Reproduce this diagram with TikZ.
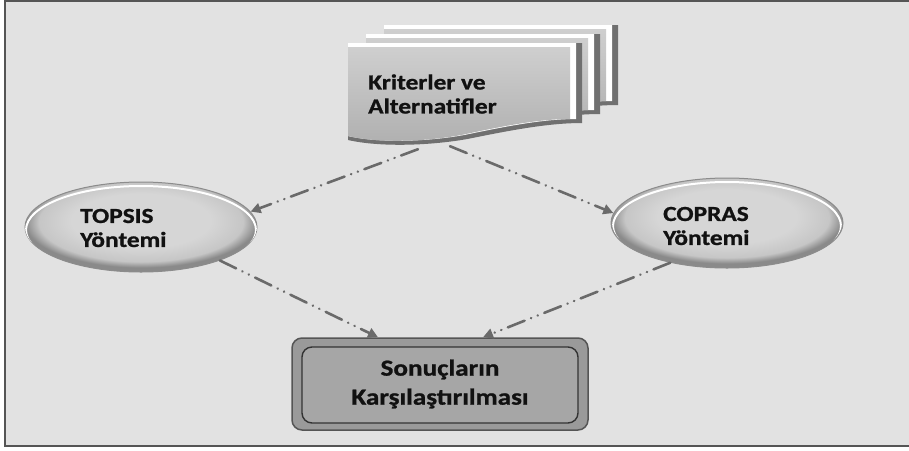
\documentclass[tikz,border=0pt]{standalone}
\usepackage{fontspec}
\setmainfont{Carlito}[FakeStretch=1.18, BoldFeatures={FakeBold=1}]
\usetikzlibrary{shapes.geometric,arrows.meta,calc}
\definecolor{bgc}{HTML}{E2E2E2}
\definecolor{framec}{HTML}{555555}
\definecolor{docdark}{HTML}{707070}
\definecolor{docTop}{HTML}{CFCFCF}
\definecolor{docBot}{HTML}{B0B0B0}
\definecolor{ellA}{HTML}{D6D6D6}
\definecolor{ellB}{HTML}{C6C6C6}
\definecolor{ellC}{HTML}{8A8A8A}
\definecolor{ellEdge}{HTML}{8C8C8C}
\definecolor{arrowc}{HTML}{6A6A6A}
\definecolor{resOut}{HTML}{9A9A9A}
\definecolor{resIn}{HTML}{A6A6A6}
\definecolor{txt}{HTML}{111111}
\pgfdeclareradialshading{ellshade}{\pgfqpoint{0bp}{5bp}}{color(0bp)=(ellA); color(15bp)=(ellA); color(22bp)=(ellB); color(25bp)=(ellC); color(50bp)=(ellC)}
\newcommand{\kdocpath}[4]{(#1,#2) -- (#3,#2) -- (#3,{80+#4}) .. controls ({#3*0.85},{80+#4}) and ({#3*0.68},{88+#4}) .. ({#3*0.51},{96+#4}) .. controls ({#3*0.34},{103+#4}) and ({#3*0.13},{104+#4}) .. (#1,{97+#4}) -- cycle}
\tikzset{
  lbl/.style={inner sep=0pt, text=txt, align=left, font=\bfseries\fontsize{21.5}{24}\selectfont},
  ellnode/.style={ellipse, minimum width=232pt, minimum height=90pt, inner sep=0pt, shade, shading=ellshade, draw=ellEdge, line width=1pt},
  flow/.style={draw=arrowc, line width=2.6pt, line cap=round,
    dash pattern=on 18pt off 7pt on 0.1pt off 7pt on 0.1pt off 7pt,
    -{Triangle[length=10pt,width=10pt]}},
  docface/.style={top color=docTop, bottom color=docBot}
}
\begin{document}
\begin{tikzpicture}[x=1pt,y=-1pt]
\useasboundingbox (0,0) rectangle (909,450);
\fill[white] (0,0) rectangle (909,450);
\fill[bgc] (5,1) rectangle (909,446);
\draw[framec, line width=2pt] (909,1) -- (5,1) -- (5,446) -- (909,446);

% documents
\foreach \dx/\dy in {384/25, 366/34, 348/43}{
  \begin{scope}[shift={(\dx,\dy)}]
    \fill[docdark] \kdocpath{0}{0}{234}{0};
    \fill[white] \kdocpath{0}{0}{228}{-4};
    \shade[docface] \kdocpath{0}{4}{222}{-4};
  \end{scope}
}
\node[minimum width=234pt, minimum height=97pt, inner sep=0pt] (krit) at (465,91.5) {};
\node[lbl, anchor=west] (kritT) at (368,94) {Kriterler ve\\Alternatifler};

% ellipses
\node[ellnode] (topsis) at (141,227) {};
\begin{scope}
  \clip (topsis.center) ellipse[x radius=116, y radius=45];
  \draw[white, line width=2pt] ([yshift=-3pt]topsis.center) ellipse[x radius=115, y radius=44];
\end{scope}
\node[lbl, anchor=west] (topsisT) at (80,228) {TOPSIS\\Yöntemi};

\node[ellnode] (copras) at (727,223) {};
\begin{scope}
  \clip (copras.center) ellipse[x radius=115, y radius=45];
  \draw[white, line width=2pt] ([yshift=-3pt]copras.center) ellipse[x radius=114, y radius=44];
\end{scope}
\node[lbl, anchor=west] (coprasT) at (663,226) {COPRAS\\Yöntemi};

% result box
\node[minimum width=296pt, minimum height=92pt, inner sep=0pt, rounded corners=10pt,
      fill=resOut, draw=framec, line width=1.5pt, align=center, text=txt,
      font=\bfseries\fontsize{23}{29}\selectfont,
      path picture={\draw[black!80, line width=1.4pt, fill=resIn]
        ([xshift=10pt,yshift=-9pt]path picture bounding box.north west) rectangle
        ([xshift=-10pt,yshift=7pt]path picture bounding box.south east);}]
  (res) at (440,384) {Sonuçların\\Karşılaştırılması};

% connectors
\draw[flow] ([xshift=-47pt,yshift=-9pt]krit.south) -- (topsis.8);
\draw[flow] ([xshift=-15pt,yshift=-6pt]krit.south) -- (copras.175);
\draw[flow] (topsis.-23) -- ([xshift=-62pt]res.north);
\draw[flow] (copras.215) -- ([xshift=43pt]res.north);
\end{tikzpicture}
\end{document}
